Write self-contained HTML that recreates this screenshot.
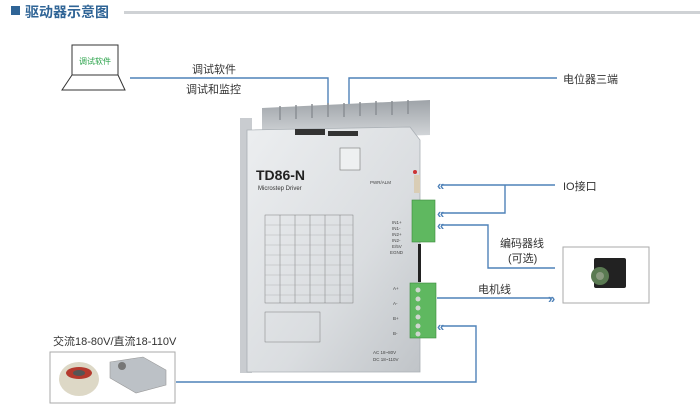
<!DOCTYPE html>
<html><head><meta charset="utf-8"><style>
html,body{margin:0;padding:0;background:#fff;width:700px;height:418px;overflow:hidden}
svg text{font-family:"Liberation Sans","Noto Sans CJK SC",sans-serif}
</style></head><body>
<svg width="700" height="418" viewBox="0 0 700 418" xmlns="http://www.w3.org/2000/svg">
<defs>
<linearGradient id="metal" x1="0" y1="0" x2="1" y2="1">
<stop offset="0" stop-color="#eceef0"/><stop offset="0.6" stop-color="#dadde0"/><stop offset="1" stop-color="#c0c4c8"/>
</linearGradient>
<linearGradient id="sink" x1="0" y1="0" x2="0" y2="1">
<stop offset="0" stop-color="#9ea3a8"/><stop offset="1" stop-color="#d8dbde"/>
</linearGradient>
</defs>
<rect x="11" y="6" width="9" height="9" fill="#2f6496"/>
<text x="25" y="17" font-size="14" font-weight="bold" fill="#2f6496">驱动器示意图</text>
<rect x="124" y="11" width="576" height="3" fill="#cfd2d5"/>
<rect x="72" y="45" width="46" height="30" fill="#fff" stroke="#333" stroke-width="1"/>
<text x="95" y="64" font-size="8" fill="#2aa34a" text-anchor="middle">调试软件</text>
<path d="M72 75 L62 90 L125 90 L118 75" fill="none" stroke="#333" stroke-width="1"/>
<g stroke="#4f82b8" stroke-width="1.4" fill="none">
<path d="M130 78 H328 V124"/>
<path d="M349 140 V78 H557"/>
<path d="M441 185 H555 M505 185 V213 H441"/>
<path d="M441 225 H488 V268 H555"/>
<path d="M437 298 H552"/>
<path d="M441 326 H476 V382 H176"/>
</g>
<g fill="#4f82b8" font-size="13" font-weight="bold">
<text x="323" y="131">»</text>
<text x="344" y="147">»</text>
<text x="437" y="190">«</text>
<text x="437" y="218">«</text>
<text x="437" y="230">«</text>
<text x="437" y="331">«</text>
<text x="548" y="303">»</text>
</g>
<g font-size="11" fill="#333">
<text x="192" y="73">调试软件</text>
<text x="186" y="93">调试和监控</text>
<text x="563" y="83">电位器三端</text>
<text x="563" y="190">IO接口</text>
<text x="500" y="247">编码器线</text>
<text x="508" y="262">(可选)</text>
<text x="478" y="293">电机线</text>
<text x="53" y="345">交流18-80V/直流18-110V</text>
</g>
<rect x="240" y="118" width="12" height="255" fill="#c9ccd0"/>
<path d="M262 108 L430 100 L430 135 L262 140 Z" fill="url(#sink)"/>
<g stroke="#8a8f94" stroke-width="1.5">
<line x1="280" y1="106" x2="280" y2="120"/><line x1="296" y1="105" x2="296" y2="119"/><line x1="312" y1="104" x2="312" y2="118"/><line x1="328" y1="103" x2="328" y2="117"/><line x1="344" y1="103" x2="344" y2="117"/><line x1="360" y1="102" x2="360" y2="116"/><line x1="376" y1="101" x2="376" y2="115"/><line x1="392" y1="101" x2="392" y2="115"/><line x1="408" y1="100" x2="408" y2="114"/>
</g>
<path d="M247 130 L410 127 L420 140 L420 372 L247 372 Z" fill="url(#metal)" stroke="#aab0b5" stroke-width="0.8"/>
<rect x="295" y="129" width="30" height="6" fill="#333"/><rect x="328" y="131" width="30" height="5" fill="#333"/>
<text x="256" y="180" font-size="14" fill="#222" font-weight="bold">TD86-N</text>
<text x="258" y="190" font-size="6" fill="#333">Microstep Driver</text>
<rect x="340" y="148" width="20" height="22" fill="#eef0f1" stroke="#777" stroke-width="0.6"/>
<g stroke="#666" stroke-width="0.4" fill="none">
<rect x="265" y="215" width="88" height="88"/>
<line x1="280" y1="215" x2="280" y2="303"/><line x1="295" y1="215" x2="295" y2="303"/><line x1="310" y1="215" x2="310" y2="303"/><line x1="325" y1="215" x2="325" y2="303"/><line x1="340" y1="215" x2="340" y2="303"/>
<rect x="265" y="312" width="55" height="30"/>
</g>
<g stroke="#999" stroke-width="0.3">
<line x1="265" y1="225" x2="353" y2="225"/><line x1="265" y1="235" x2="353" y2="235"/><line x1="265" y1="245" x2="353" y2="245"/><line x1="265" y1="255" x2="353" y2="255"/><line x1="265" y1="265" x2="353" y2="265"/><line x1="265" y1="275" x2="353" y2="275"/><line x1="265" y1="285" x2="353" y2="285"/><line x1="265" y1="295" x2="353" y2="295"/>
</g>
<g font-size="4.5" fill="#444">
<text x="370" y="184">PWR/ALM</text>
<text x="392" y="224">IN1+</text><text x="392" y="230">IN1-</text><text x="392" y="236">IN2+</text><text x="392" y="242">IN2-</text><text x="392" y="248">E/5V</text><text x="390" y="254">EGND</text>
<text x="393" y="290">A+</text><text x="393" y="305">A-</text><text x="393" y="320">B+</text><text x="393" y="335">B-</text>
<text x="373" y="354">AC 18~80V</text><text x="373" y="361">DC 18~110V</text>
</g>
<rect x="412" y="200" width="23" height="42" fill="#5fb860" stroke="#3b8a3c" stroke-width="0.6"/>
<rect x="410" y="283" width="26" height="55" fill="#5fb860" stroke="#3b8a3c" stroke-width="0.6"/>
<rect x="418" y="244" width="3" height="38" fill="#222"/>
<g fill="#cfd6cf"><circle cx="418" cy="290" r="2.5"/><circle cx="418" cy="299" r="2.5"/><circle cx="418" cy="308" r="2.5"/><circle cx="418" cy="317" r="2.5"/><circle cx="418" cy="326" r="2.5"/><circle cx="418" cy="334" r="2.5"/></g>
<rect x="414" y="175" width="6" height="18" fill="#d9cdb5"/><circle cx="415" cy="172" r="2" fill="#c33"/>
<rect x="563" y="247" width="86" height="56" fill="#fff" stroke="#aaa" stroke-width="1"/>
<rect x="594" y="258" width="32" height="30" fill="#222" rx="2"/>
<circle cx="600" cy="276" r="9" fill="#5a7a52"/><circle cx="600" cy="276" r="4" fill="#8a9a80"/>
<rect x="50" y="352" width="125" height="51" fill="#fff" stroke="#aaa" stroke-width="1"/>
<ellipse cx="79" cy="379" rx="20" ry="17" fill="#ddd8c6"/><ellipse cx="79" cy="373" rx="13" ry="6" fill="#b43a2e"/><ellipse cx="79" cy="373" rx="6" ry="3" fill="#555"/>
<path d="M110 362 L143 357 L166 370 L166 385 L136 393 L110 378 Z" fill="#bcc1c6" stroke="#999" stroke-width="0.6"/>
<circle cx="122" cy="366" r="4" fill="#777"/>
</svg>
</body></html>
